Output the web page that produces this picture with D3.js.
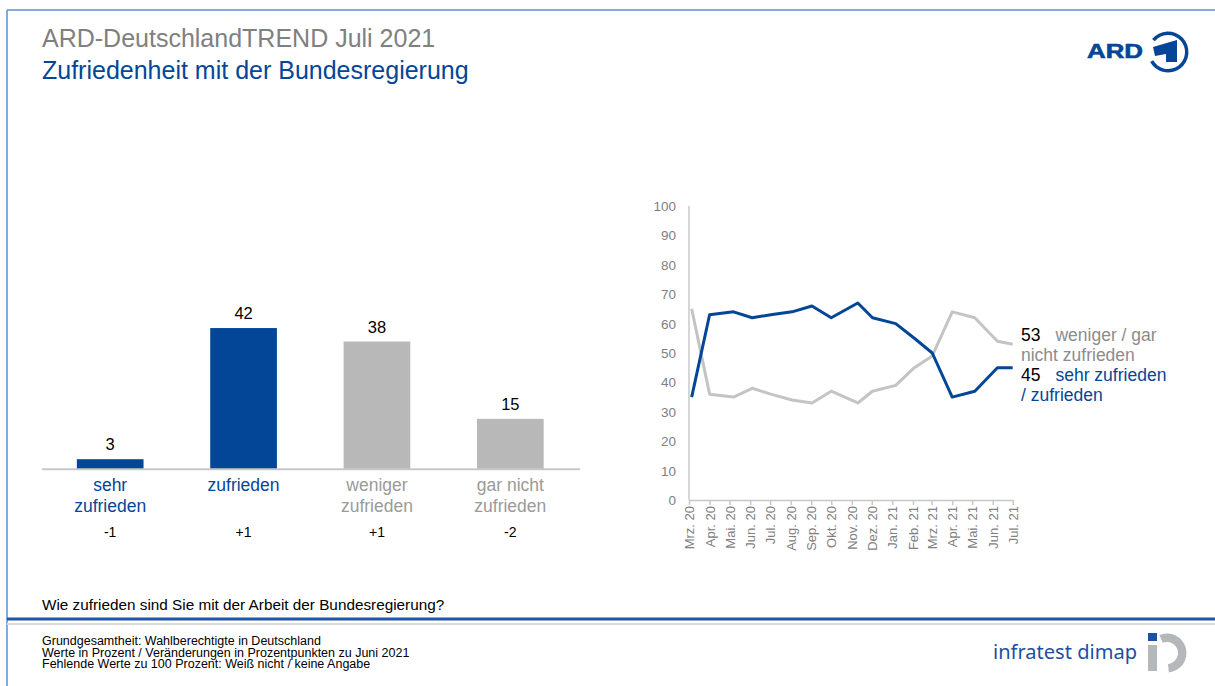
<!DOCTYPE html>
<html>
<head>
<meta charset="utf-8">
<script src="https://cdn.jsdelivr.net/npm/d3@7"></script>
<style>
  html, body { margin: 0; padding: 0; background: #fff; }
  svg text { font-family: "Liberation Sans", Arial, sans-serif; }
</style>
</head>
<body>
<div id="chart"></div>
<script>
// Bar chart data (Juli 2021)
const barCats = [["sehr", "zufrieden"], ["zufrieden"], ["weniger", "zufrieden"], ["gar nicht", "zufrieden"]];
const barValues = [3, 42, 38, 15];
const barChanges = ["-1", "+1", "+1", "-2"];
const barColors = ["#034698", "#034698", "#b8b8b8", "#b8b8b8"];

// Trend data
const trendDates = ["2020-03-05", "2020-04-01", "2020-05-07", "2020-06-04", "2020-07-02", "2020-08-03",
  "2020-09-02", "2020-10-01", "2020-11-10", "2020-12-02", "2021-01-06", "2021-02-03", "2021-03-02",
  "2021-04-01", "2021-05-05", "2021-06-08", "2021-07-01"];
const zufrieden = [35, 63, 64, 62, 63, 64, 66, 62, 67, 62, 60, 55, 50, 35, 37, 45, 45];
const nichtZufrieden = [65, 36, 35, 38, 36, 34, 33, 37, 33, 37, 39, 45, 49, 64, 62, 54, 53];
const yTicks = [0, 10, 20, 30, 40, 50, 60, 70, 80, 90, 100];
const monthNames = ["Jan.", "Feb.", "Mrz.", "Apr.", "Mai.", "Jun.", "Jul.", "Aug.", "Sep.", "Okt.", "Nov.", "Dez."];

const blue = "#034698";
const grey = "#808080";

const W = 1215, H = 686;
const svg = d3.select("#chart").append("svg")
  .attr("width", W)
  .attr("height", H);

// page frame
svg.append("line").attr("x1", 7).attr("x2", W).attr("y1", 10).attr("y2", 10)
  .attr("stroke", "#5b8fd6").attr("stroke-width", 1.5);
svg.append("line").attr("x1", 7).attr("x2", 7).attr("y1", 10).attr("y2", H)
  .attr("stroke", "#5b8fd6").attr("stroke-width", 1.5);

// titles
svg.append("text").attr("x", 42).attr("y", 47)
  .attr("fill", grey).style("font-size", "25px")
  .text("ARD-DeutschlandTREND Juli 2021");
svg.append("text").attr("x", 42).attr("y", 79)
  .attr("fill", blue).style("font-size", "25px")
  .text("Zufriedenheit mit der Bundesregierung");

// ARD logo
const logo = svg.append("g");
logo.append("text").attr("x", 1087).attr("y", 58)
  .attr("fill", blue).style("font-size", "20px").style("font-weight", "bold")
  .attr("stroke", blue).attr("stroke-width", 0.6)
  .attr("textLength", 56).attr("lengthAdjust", "spacingAndGlyphs")
  .text("ARD");
logo.append("path")
  .attr("transform", "translate(1168,52)")
  .attr("fill", blue)
  .attr("d", d3.arc()({ innerRadius: 17, outerRadius: 20.5, startAngle: -0.89, endAngle: 4.2 }));
logo.append("path")
  .attr("fill", blue)
  .attr("d", d3.line()([[1153, 47], [1177, 40], [1177, 62], [1166, 62], [1166, 54], [1155, 56]]) + "Z");

// ---------- bar chart ----------
const xBar = d3.scaleBand()
  .domain(d3.range(barValues.length))
  .range([43.5, 577])
  .paddingInner(0.5)
  .paddingOuter(0.25);
const yBar = d3.scaleLinear().domain([0, 100]).range([469.3, 133]);

const bars = svg.append("g");
bars.selectAll("rect")
  .data(barValues)
  .enter()
  .append("rect")
  .attr("x", (d, i) => xBar(i))
  .attr("y", d => yBar(d))
  .attr("width", xBar.bandwidth())
  .attr("height", d => yBar(0) - yBar(d))
  .attr("fill", (d, i) => barColors[i]);

bars.append("line")
  .attr("x1", 42).attr("x2", 580)
  .attr("y1", yBar(0)).attr("y2", yBar(0))
  .attr("stroke", "#c8c8c8").attr("stroke-width", 2);

bars.selectAll(".val")
  .data(barValues)
  .enter()
  .append("text")
  .attr("class", "val")
  .attr("x", (d, i) => xBar(i) + xBar.bandwidth() / 2)
  .attr("y", d => yBar(d) - 9)
  .attr("text-anchor", "middle")
  .style("font-size", "16.5px")
  .attr("fill", "#000")
  .text(d => d);

bars.selectAll(".cat")
  .data(barCats)
  .enter()
  .append("text")
  .attr("class", "cat")
  .attr("x", (d, i) => xBar(i) + xBar.bandwidth() / 2)
  .attr("y", 491)
  .attr("text-anchor", "middle")
  .style("font-size", "17.5px")
  .attr("fill", (d, i) => i < 2 ? blue : "#9a9a9a")
  .each(function (d) {
    const t = d3.select(this);
    const cx = t.attr("x");
    d.forEach((line, j) => {
      t.append("tspan").attr("x", cx).attr("dy", j === 0 ? 0 : 21).text(line);
    });
  });

bars.selectAll(".chg")
  .data(barChanges)
  .enter()
  .append("text")
  .attr("class", "chg")
  .attr("x", (d, i) => xBar(i) + xBar.bandwidth() / 2)
  .attr("y", 537)
  .attr("text-anchor", "middle")
  .style("font-size", "14px")
  .attr("fill", "#000")
  .text(d => d);

// ---------- trend line chart ----------
const parse = d3.timeParse("%Y-%m-%d");
const dates = trendDates.map(parse);
const xT = d3.scaleTime()
  .domain([new Date(2020, 2, 1), new Date(2021, 6, 1)])
  .range([689, 1012.7]);
const yT = d3.scaleLinear().domain([0, 100]).range([500, 206]);

const trend = svg.append("g");

// y axis
trend.append("line")
  .attr("x1", 689).attr("x2", 689)
  .attr("y1", yT(100)).attr("y2", yT(0))
  .attr("stroke", "#c8c8c8").attr("stroke-width", 1.5);
trend.selectAll(".ytick")
  .data(yTicks)
  .enter()
  .append("text")
  .attr("class", "ytick")
  .attr("x", 676)
  .attr("y", d => yT(d) + 5)
  .attr("text-anchor", "end")
  .style("font-size", "13.5px")
  .attr("fill", grey)
  .text(d => d);

// x axis
const months = d3.timeMonth.range(new Date(2020, 2, 1), new Date(2021, 6, 2));
const xAxis = d3.axisBottom(xT)
  .tickValues(months)
  .tickSize(5)
  .tickSizeOuter(0)
  .tickFormat(d => monthNames[d.getMonth()] + " " + String(d.getFullYear()).slice(2));
const xg = trend.append("g")
  .attr("transform", `translate(0,${yT(0)})`)
  .call(xAxis);
xg.select(".domain").attr("stroke", "#c8c8c8").attr("stroke-width", 1.5);
xg.selectAll(".tick line").attr("stroke", "#c8c8c8").attr("stroke-width", 1.5);
xg.selectAll(".tick text")
  .attr("fill", grey)
  .style("font-size", "13px")
  .style("font-family", "'Liberation Sans', Arial, sans-serif")
  .attr("text-anchor", "end")
  .attr("transform", "rotate(-90)")
  .attr("x", -6)
  .attr("y", 0)
  .attr("dy", "0.35em");

const line = d3.line()
  .x((d, i) => xT(dates[i]))
  .y(d => yT(d));

trend.append("path")
  .datum(nichtZufrieden)
  .attr("fill", "none")
  .attr("stroke", "#c4c4c4")
  .attr("stroke-width", 3)
  .attr("stroke-linejoin", "round")
  .attr("d", line);
trend.append("path")
  .datum(zufrieden)
  .attr("fill", "none")
  .attr("stroke", blue)
  .attr("stroke-width", 3)
  .attr("stroke-linejoin", "round")
  .attr("d", line);

// end labels
const lastN = nichtZufrieden[nichtZufrieden.length - 1];
const lastZ = zufrieden[zufrieden.length - 1];
const lblX = 1021;
const fs = "17.5px";
const l1 = trend.append("text").attr("x", lblX).attr("y", yT(lastN) - 3).style("font-size", fs);
l1.append("tspan").attr("fill", "#000").text(lastN);
l1.append("tspan").attr("fill", "#8c8c8c").attr("dx", 15).text("weniger / gar");
trend.append("text").attr("x", lblX).attr("y", yT(lastN) + 17).style("font-size", fs)
  .attr("fill", "#8c8c8c").text("nicht zufrieden");
const l2 = trend.append("text").attr("x", lblX).attr("y", yT(lastZ) + 13).style("font-size", fs);
l2.append("tspan").attr("fill", "#000").text(lastZ);
l2.append("tspan").attr("fill", blue).attr("dx", 15).text("sehr zufrieden");
trend.append("text").attr("x", lblX).attr("y", yT(lastZ) + 33).style("font-size", fs)
  .attr("fill", blue).text("/ zufrieden");

// ---------- footer ----------
svg.append("text").attr("x", 42).attr("y", 610)
  .style("font-size", "15.3px").attr("fill", "#000")
  .text("Wie zufrieden sind Sie mit der Arbeit der Bundesregierung?");

svg.append("rect").attr("x", 7).attr("y", 617.5).attr("width", W - 7).attr("height", 3).attr("fill", "#1f56a5");
svg.append("rect").attr("x", 7).attr("y", 623).attr("width", W - 7).attr("height", 2).attr("fill", "#d9d9d9");

const notes = [
  "Grundgesamtheit: Wahlberechtigte in Deutschland",
  "Werte in Prozent / Veränderungen in Prozentpunkten zu Juni 2021",
  "Fehlende Werte zu 100 Prozent: Weiß nicht / keine Angabe"
];
svg.selectAll(".note")
  .data(notes)
  .enter()
  .append("text")
  .attr("class", "note")
  .attr("x", 42)
  .attr("y", (d, i) => 645 + i * 11.7)
  .style("font-size", "12.5px")
  .attr("fill", "#000")
  .text(d => d);

// infratest dimap logo
svg.append("text").attr("x", 993).attr("y", 659)
  .attr("fill", "#1e4fa0")
  .style("font-size", "19px")
  .style("font-family", "'Noto Sans', 'Open Sans', sans-serif")
  .attr("textLength", 144).attr("lengthAdjust", "spacingAndGlyphs")
  .text("infratest dimap");
svg.append("rect").attr("x", 1148).attr("y", 633).attr("width", 9).attr("height", 8).attr("fill", "#1e4fa0");
svg.append("rect").attr("x", 1148).attr("y", 645).attr("width", 9).attr("height", 26).attr("fill", "#b5b8bb");
svg.append("path")
  .attr("transform", "translate(1167,653)")
  .attr("fill", "#b5b8bb")
  .attr("d", d3.arc()({ innerRadius: 11, outerRadius: 19.5, startAngle: -0.4, endAngle: Math.PI * 0.97 }));
</script>
</body>
</html>
